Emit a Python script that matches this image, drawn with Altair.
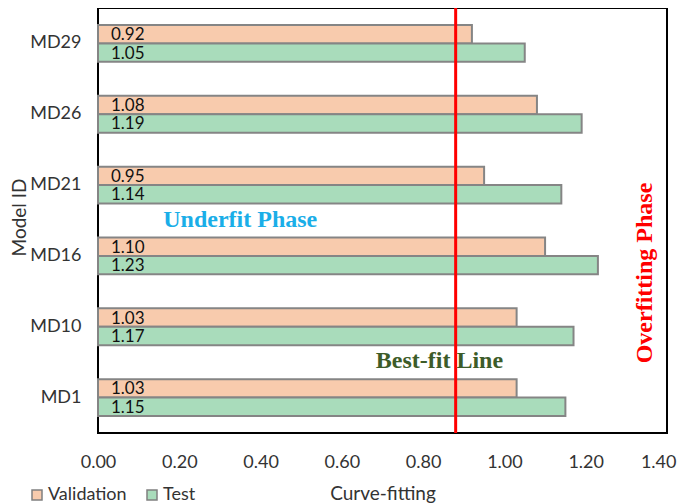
import altair as alt
import pandas as pd

models = ["MD29", "MD26", "MD21", "MD16", "MD10", "MD1"]
validation = [0.92, 1.08, 0.95, 1.10, 1.03, 1.03]
test = [1.05, 1.19, 1.14, 1.23, 1.17, 1.15]
series = ["Validation", "Test"]
best_fit = 0.88

rows = []
for m, v, t in zip(models, validation, test):
    rows.append({"Model": m, "Series": "Validation", "Value": v})
    rows.append({"Model": m, "Series": "Test", "Value": t})
df = pd.DataFrame(rows)

FONT = "Lato"
SERIF = "Liberation Serif"

x_enc = alt.X("Value:Q", title="Curve-fitting",
              scale=alt.Scale(domain=[0, 1.4], nice=False),
              axis=alt.Axis(values=[0, 0.2, 0.4, 0.6, 0.8, 1.0, 1.2, 1.4], format=".2f",
                            grid=False, ticks=False, domain=False, labelPadding=20,
                            labelFlush=False,
                            labelAlign={"condition": {"test": "datum.value >= 1.4", "value": "right"},
                                        "value": "center"},
                            labelOffset={"condition": {"test": "datum.value >= 1.4", "value": 9},
                                         "value": 0},
                            labelFontSize=18, labelFont=FONT, labelColor="#333",
                            titleFontSize=19, titleFont=FONT, titleFontWeight="normal",
                            titleColor="#333", titleY=60, titleBaseline="middle"))
y_enc = alt.Y("Model:N", sort=models, title="Model ID",
              scale=alt.Scale(paddingInner=0.48, paddingOuter=0.24),
              axis=alt.Axis(ticks=False, domain=False, labelPadding=17,
                            labelFontSize=18, labelFont=FONT, labelColor="#333",
                            titleFontSize=19, titleFont=FONT, titleFontWeight="normal",
                            titleColor="#333", titleX=-79, titleY=209,
                            titleAngle=270, titleBaseline="middle"))
yoff = alt.YOffset("Series:N", sort=series, scale=alt.Scale(domain=series))

bars = alt.Chart(df).mark_bar(stroke="#858585", strokeWidth=2).encode(
    x=x_enc,
    y=y_enc,
    yOffset=yoff,
    color=alt.Color("Series:N", sort=series,
                    scale=alt.Scale(domain=series, range=["#f8cbad", "#a9dcbb"]),
                    legend=alt.Legend(title=None, orient="none", legendX=-70, legendY=478,
                                      direction="horizontal", symbolType="square",
                                      symbolSize=100, symbolStrokeColor="#808080",
                                      symbolStrokeWidth=1.5, labelFont=FONT,
                                      labelFontSize=18, labelColor="#333",
                                      labelOffset=2, columnPadding=16)),
)

labels = alt.Chart(df).mark_text(align="left", baseline="middle", dx=13, dy=1,
                                 font=FONT, fontSize=17, color="#111").encode(
    x=alt.datum(0),
    y=alt.Y("Model:N", sort=models),
    yOffset=yoff,
    text=alt.Text("Value:Q", format=".2f"),
)

rule = alt.Chart(pd.DataFrame({"fit": [best_fit]})).mark_rule(
    color="#ff0000", strokeWidth=3).encode(x="fit:Q")

underfit = alt.Chart(pd.DataFrame({"t": ["Underfit Phase"]})).mark_text(
    font=SERIF, fontSize=24, fontWeight="bold", color="#1aaee8").encode(
    x=alt.datum(0.35), y=alt.value(212), text="t:N")
bestline = alt.Chart(pd.DataFrame({"t": ["Best-fit  Line"]})).mark_text(
    font=SERIF, fontSize=24, fontWeight="bold", color="#3d5c29").encode(
    x=alt.datum(0.84), y=alt.value(353), text="t:N")
overfit = alt.Chart(pd.DataFrame({"t": ["Overfitting Phase"]})).mark_text(
    font=SERIF, fontSize=24, fontWeight="bold", color="#ff0000", angle=270).encode(
    x=alt.datum(1.346), y=alt.value(265), text="t:N")

chart = alt.layer(bars, labels, rule, underfit, bestline, overfit).properties(
    width=569, height=425,
    background="white",
    autosize=alt.AutoSizeParams(type="none"),
    padding={"left": 90, "top": 0, "right": 10, "bottom": 70},
).configure_view(stroke="#000000", strokeWidth=2)

chart.save("out.html", embed_options={"renderer": "svg", "actions": False})
